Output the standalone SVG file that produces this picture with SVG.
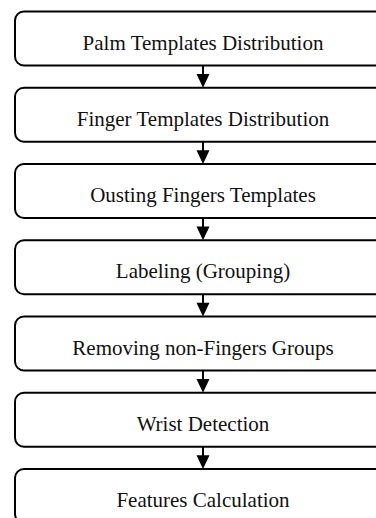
<svg xmlns="http://www.w3.org/2000/svg" width="376" height="518" viewBox="0 0 376 518">
<style>
.box{fill:#fff;stroke:#000;stroke-width:2}
.lbl{font-family:"Liberation Serif","Times New Roman",serif;font-size:21px;fill:#111;text-anchor:middle}
.con{stroke:#000;stroke-width:2;fill:none}
.head{fill:#000}
</style>
<rect width="376" height="518" fill="#fff"/>
<g id="n1"><rect class="box" x="15" y="11.5" width="376" height="54" rx="9"/><text class="lbl" x="203" y="49.5">Palm Templates Distribution</text></g>
<g id="n2"><rect class="box" x="15" y="87.75" width="376" height="54" rx="9"/><text class="lbl" x="203" y="125.75">Finger Templates Distribution</text></g>
<g id="n3"><rect class="box" x="15" y="164" width="376" height="54" rx="9"/><text class="lbl" x="203" y="202">Ousting Fingers Templates</text></g>
<g id="n4"><rect class="box" x="15" y="240.25" width="376" height="54" rx="9"/><text class="lbl" x="203" y="278.25">Labeling (Grouping)</text></g>
<g id="n5"><rect class="box" x="15" y="316.5" width="376" height="54" rx="9"/><text class="lbl" x="203" y="354.5">Removing non-Fingers Groups</text></g>
<g id="n6"><rect class="box" x="15" y="392.75" width="376" height="54" rx="9"/><text class="lbl" x="203" y="430.75">Wrist Detection</text></g>
<g id="n7"><rect class="box" x="15" y="469" width="376" height="54" rx="9"/><text class="lbl" x="203" y="507">Features Calculation</text></g>
<g id="connectors">
<path class="con" d="M203 65.5V75"/><polygon class="head" points="196.5,74 209.5,74 203,87.75"/>
<path class="con" d="M203 141.75V151"/><polygon class="head" points="196.5,150.25 209.5,150.25 203,164"/>
<path class="con" d="M203 218V228"/><polygon class="head" points="196.5,226.5 209.5,226.5 203,240.25"/>
<path class="con" d="M203 294.25V304"/><polygon class="head" points="196.5,302.75 209.5,302.75 203,316.5"/>
<path class="con" d="M203 370.5V380"/><polygon class="head" points="196.5,379 209.5,379 203,392.75"/>
<path class="con" d="M203 446.75V456"/><polygon class="head" points="196.5,455.25 209.5,455.25 203,469"/>
</g>
</svg>
